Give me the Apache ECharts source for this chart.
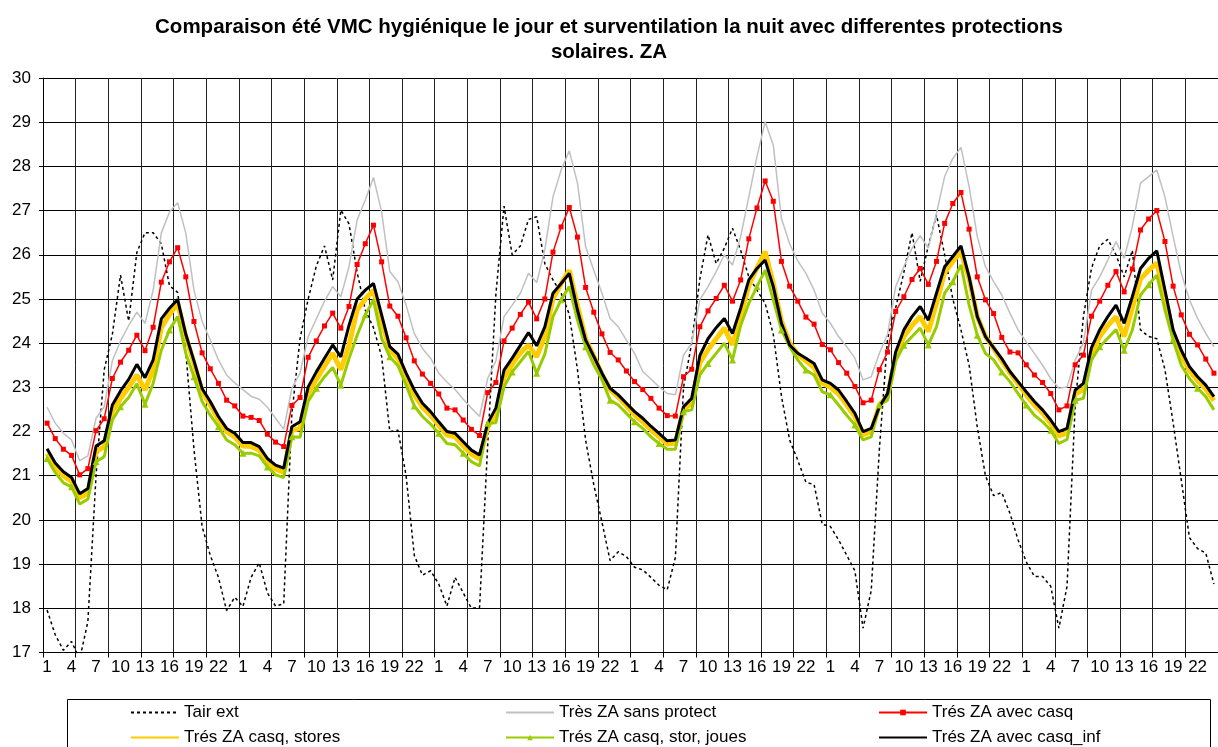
<!DOCTYPE html>
<html>
<head>
<meta charset="utf-8">
<script src="https://cdn.jsdelivr.net/npm/echarts@6/dist/echarts.min.js"></script>
<style>html,body{margin:0;padding:0;background:#fff;}#c{width:1218px;height:747px;}</style>
</head>
<body>
<div id="c"></div>
<script>
// hour labels of one day, repeated for the 6 days
const dayHours = [1,2,3,4,5,6,7,8,9,10,11,12,13,14,15,16,17,18,19,20,21,22,23,24];
const nDays = 6;
const yTicks = { min: 17, max: 30, interval: 1 };

const seriesNames = ['Tair ext','Très ZA sans protect','Trés ZA avec casq','Trés ZA casq, stores','Trés ZA casq, stor, joues','Trés ZA avec casq_inf'];

const tairExt = [
 17.96,17.4,17.05,17.25,16.85,17.7,21.0,23.4,24.2,25.54,24.5,26.05,26.5,26.5,26.25,25.3,25.15,23.8,21.6,19.85,19.2,18.7,17.95,18.25,
 18.04,18.7,19.03,18.35,18.05,18.1,22.4,24.1,25.0,25.75,26.2,25.43,27.01,26.7,25.6,24.75,24.35,23.7,22.0,22.03,21.0,19.2,18.75,18.85,
 18.55,18.05,18.7,18.35,18.0,18.02,21.7,25.1,27.1,26.0,26.2,26.8,26.86,25.8,25.43,25.13,24.65,23.4,21.8,20.8,19.95,19.08,19.28,19.17,
 18.93,18.87,18.7,18.52,18.42,19.15,23.0,24.0,25.45,26.45,25.8,26.15,26.6,26.1,25.5,25.2,24.9,24.2,22.8,21.81,21.35,20.85,20.8,19.9,
 19.85,19.55,19.2,18.85,17.55,18.4,21.6,24.1,24.8,25.6,26.5,25.4,26.2,26.9,26.0,25.0,24.3,23.5,22.1,21.0,20.55,20.62,20.15,19.55,
 19.05,18.72,18.72,18.5,17.55,18.5,22.6,24.6,25.7,26.2,26.35,26.0,25.5,26.1,24.3,24.15,24.1,23.4,22.2,20.9,19.6,19.35,19.25,18.55
];
const sansProtect = [
 22.55,22.19,21.96,21.81,21.34,21.45,22.3,22.56,23.6,24.05,24.4,24.7,24.45,25.2,26.49,26.97,27.18,26.49,25.2,24.49,24.07,23.62,23.28,23.1,
 22.95,22.8,22.73,22.55,22.3,22.05,22.98,23.32,24.15,24.55,24.95,25.28,25.05,25.73,26.79,27.24,27.75,26.97,25.62,25.39,24.86,24.22,23.88,23.66,
 23.32,23.12,22.95,22.73,22.53,22.34,23.2,23.6,24.6,24.86,25.13,25.58,25.37,26.11,27.31,27.92,28.35,27.62,26.18,25.65,25.13,24.56,24.37,24.07,
 23.77,23.36,23.19,23.01,22.86,22.83,23.73,24.0,24.98,25.28,25.62,26.0,25.77,26.41,27.31,28.22,29.01,28.48,26.82,26.25,25.86,25.58,25.2,24.68,
 24.45,24.15,23.92,23.66,23.17,23.24,23.77,24.2,25.28,25.73,26.15,26.43,26.15,26.94,27.77,28.18,28.43,27.54,26.41,25.73,25.39,25.09,24.68,24.3,
 24.03,23.77,23.5,23.2,22.98,23.01,23.62,24.0,25.2,25.5,25.88,26.3,25.92,26.64,27.62,27.77,27.92,27.31,26.41,25.58,24.98,24.56,24.22,23.92
];
const avecCasq = [
 22.19,21.84,21.6,21.46,21.02,21.16,22.02,22.29,23.2,23.57,23.84,24.18,23.83,24.36,25.38,25.84,26.16,25.5,24.49,23.78,23.42,23.09,22.71,22.58,
 22.35,22.32,22.25,21.94,21.76,21.66,22.59,22.77,23.68,24.05,24.39,24.68,24.34,24.83,25.78,26.25,26.67,25.84,24.84,24.61,24.12,23.6,23.3,23.09,
 22.85,22.53,22.49,22.26,22.05,21.91,22.88,23.11,24.05,24.34,24.65,24.93,24.55,25.0,26.06,26.63,27.07,26.4,25.26,24.7,24.21,23.79,23.62,23.37,
 23.13,22.95,22.75,22.53,22.36,22.35,23.24,23.41,24.37,24.73,25.01,25.31,24.95,25.43,26.36,27.06,27.67,27.21,25.85,25.29,24.95,24.59,24.43,23.97,
 23.85,23.56,23.32,23.02,22.65,22.71,23.4,23.8,24.72,25.05,25.44,25.69,25.33,25.85,26.71,27.16,27.41,26.58,25.5,24.98,24.67,24.13,23.8,23.78,
 23.51,23.28,23.11,22.86,22.49,22.58,23.51,23.73,24.61,24.95,25.31,25.62,25.16,25.68,26.56,26.81,27.0,26.3,25.29,24.64,24.2,23.96,23.64,23.32
];
const casqStores = [
 21.5,21.2,21.0,20.87,20.5,20.6,21.55,21.65,22.45,22.75,23.0,23.28,22.94,23.4,24.35,24.65,24.9,24.15,23.55,22.9,22.6,22.27,22.0,21.88,
 21.67,21.66,21.58,21.3,21.15,21.08,22.02,22.07,22.85,23.18,23.48,23.77,23.4,23.95,24.75,25.0,25.2,24.5,23.85,23.65,23.22,22.84,22.55,22.37,
 22.14,21.92,21.88,21.68,21.49,21.38,22.1,22.4,23.22,23.52,23.78,23.96,23.69,24.15,25.0,25.35,25.65,24.85,24.1,23.7,23.3,22.95,22.78,22.58,
 22.38,22.22,22.04,21.88,21.72,21.73,22.5,22.65,23.55,23.85,24.1,24.34,23.96,24.6,25.3,25.7,26.07,25.35,24.5,24.0,23.75,23.6,23.45,23.1,
 23.0,22.85,22.6,22.34,21.93,21.99,22.6,22.8,23.7,24.15,24.4,24.6,24.26,24.9,25.6,25.85,26.07,25.45,24.6,24.15,23.88,23.6,23.33,23.08,
 22.83,22.6,22.42,22.18,21.9,21.97,22.85,22.95,23.75,24.15,24.4,24.6,24.15,24.8,25.45,25.65,25.81,25.05,24.2,23.72,23.38,23.15,22.96,22.7
];
const casqStorJoues = [
 21.39,21.07,20.84,20.75,20.36,20.47,21.32,21.43,22.26,22.56,22.77,23.08,22.62,23.09,23.84,24.3,24.6,23.77,23.24,22.68,22.37,22.11,21.81,21.7,
 21.51,21.51,21.45,21.2,21.02,20.96,21.88,21.87,22.68,22.98,23.24,23.45,23.05,23.65,24.18,24.64,24.98,24.11,23.69,23.49,23.05,22.58,22.34,22.17,
 21.96,21.73,21.7,21.51,21.32,21.22,22.19,22.2,23.01,23.35,23.58,23.81,23.32,23.75,24.6,24.98,25.28,24.52,23.92,23.51,23.17,22.71,22.6,22.41,
 22.22,22.07,21.88,21.73,21.6,21.6,22.45,22.49,23.28,23.54,23.77,24.0,23.62,24.4,24.9,25.28,25.65,24.98,24.3,23.92,23.62,23.39,23.28,22.9,
 22.83,22.6,22.37,22.15,21.81,21.88,22.6,22.71,23.6,23.95,24.15,24.34,23.96,24.37,25.13,25.39,25.77,24.86,24.18,23.77,23.62,23.35,23.13,22.86,
 22.6,22.37,22.22,22.03,21.73,21.82,22.71,22.75,23.62,23.92,24.11,24.31,23.84,24.3,25.09,25.32,25.54,24.75,24.07,23.5,23.2,22.98,22.79,22.49
];
const casqInf = [
 21.61,21.29,21.09,20.96,20.59,20.71,21.67,21.79,22.6,22.92,23.18,23.52,23.22,23.62,24.55,24.79,24.99,24.2,23.6,22.97,22.68,22.34,22.07,21.96,
 21.75,21.75,21.66,21.39,21.24,21.17,22.11,22.22,23.01,23.35,23.66,23.96,23.69,24.4,25.0,25.2,25.35,24.64,23.92,23.75,23.32,22.94,22.64,22.45,
 22.22,22.0,21.96,21.77,21.58,21.47,22.19,22.53,23.39,23.66,23.95,24.24,23.94,24.37,25.13,25.35,25.58,24.75,24.07,23.7,23.32,22.98,22.83,22.64,
 22.45,22.3,22.12,21.96,21.79,21.81,22.56,22.75,23.72,24.1,24.35,24.56,24.22,24.79,25.43,25.69,25.88,25.28,24.45,23.96,23.77,23.66,23.54,23.17,
 23.09,22.94,22.68,22.41,22.0,22.07,22.56,22.86,23.8,24.3,24.6,24.83,24.52,25.13,25.73,25.96,26.2,25.5,24.6,24.15,23.9,23.65,23.36,23.13,
 22.9,22.68,22.49,22.26,22.0,22.07,22.94,23.09,23.9,24.3,24.6,24.86,24.45,25.05,25.69,25.92,26.09,25.2,24.3,23.84,23.47,23.24,23.05,22.79
];

const categories = [];
for (let d = 0; d < nDays; d++) for (const h of dayHours) categories.push(String(h));

const FONT = 'Liberation Sans, Arial, sans-serif';
const chart = echarts.init(document.getElementById('c'), null, { renderer: 'canvas' });

function lineSeries(name, data, color, width, extra) {
  return Object.assign({
    name, type: 'line', data,
    symbol: 'none', showSymbol: false,
    lineStyle: { color, width },
    itemStyle: { color },
    emphasis: { disabled: true },
    z: 2
  }, extra || {});
}

const legendCommon = {
  orient: 'vertical', top: 704, itemWidth: 48, itemHeight: 7, itemGap: 8,
  textStyle: { fontSize: 17, color: '#000', fontFamily: FONT },
  selectedMode: false, padding: 0
};
const hideSym = { opacity: 0 };

chart.setOption({
  animation: false,
  backgroundColor: '#fff',
  title: {
    text: 'Comparaison été VMC hygiénique le jour et surventilation la nuit avec differentes protections\nsolaires. ZA',
    left: 'center', top: 10,
    textStyle: { fontSize: 20.5, fontWeight: 'bold', color: '#000', fontFamily: FONT, lineHeight: 25 }
  },
  grid: { left: 43, top: 78, width: 1175, height: 574.5, containLabel: false },
  xAxis: {
    type: 'category', data: categories, boundaryGap: true,
    axisLine: { lineStyle: { color: '#000', width: 1 } },
    axisTick: { show: true, interval: 3, length: 5, lineStyle: { color: '#000' } },
    axisLabel: { interval: 2, color: '#000', fontSize: 17, fontFamily: FONT, margin: 6 },
    splitLine: { show: true, interval: 3, lineStyle: { color: '#222', width: 1 } }
  },
  yAxis: {
    type: 'value', min: yTicks.min, max: yTicks.max, interval: yTicks.interval,
    axisLine: { show: true, lineStyle: { color: '#000', width: 1 } },
    axisTick: { show: true, length: 4, lineStyle: { color: '#000' } },
    axisLabel: { color: '#000', fontSize: 17, fontFamily: FONT, margin: 12 },
    splitLine: { show: true, lineStyle: { color: '#000', width: 1 } }
  },
  legend: [
    Object.assign({ left: 130, data: [
      { name: seriesNames[0], itemStyle: hideSym },
      { name: seriesNames[3], itemStyle: hideSym } ] }, legendCommon),
    Object.assign({ left: 505, data: [
      { name: seriesNames[1], itemStyle: hideSym },
      { name: seriesNames[4] } ] }, legendCommon),
    Object.assign({ left: 878, data: [
      { name: seriesNames[2] },
      { name: seriesNames[5], itemStyle: hideSym } ] }, legendCommon)
  ],
  graphic: [{
    type: 'rect', left: 65, top: 697, silent: true,
    shape: { x: 0, y: 0, width: 1143, height: 60 },
    style: { fill: 'none', stroke: '#000', lineWidth: 1 }
  }],
  series: [
    lineSeries(seriesNames[0], tairExt, '#000000', 1.5, { lineStyle: { color: '#000', width: 1.5, type: [3, 3] } }),
    lineSeries(seriesNames[1], sansProtect, '#C0C0C0', 1.5),
    lineSeries(seriesNames[2], avecCasq, '#FF0000', 1.5, { symbol: 'rect', showSymbol: true, symbolSize: 5 }),
    lineSeries(seriesNames[3], casqStores, '#FFCC00', 5),
    lineSeries(seriesNames[4], casqStorJoues, '#99CC00', 3, { symbol: 'triangle', showSymbol: true, symbolSize: 7 }),
    lineSeries(seriesNames[5], casqInf, '#000000', 3)
  ]
});
</script>
</body>
</html>
